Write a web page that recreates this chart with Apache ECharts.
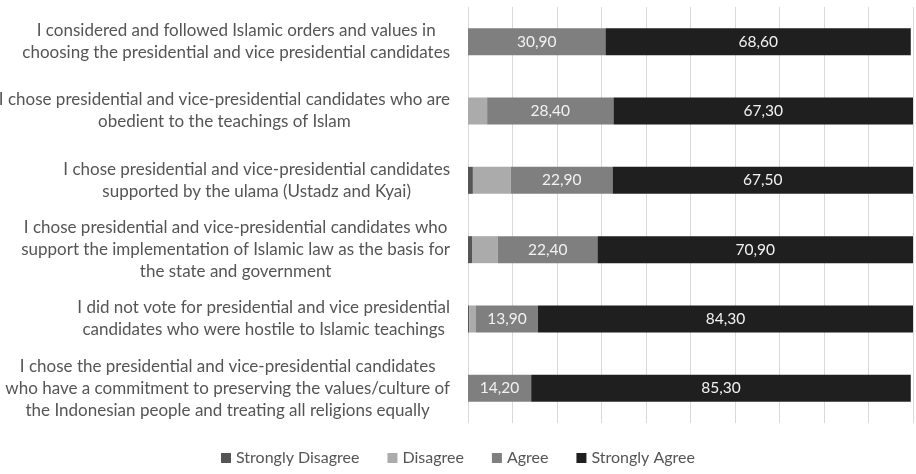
<!DOCTYPE html>
<html>
<head>
<meta charset="utf-8">
<script src="https://cdn.jsdelivr.net/npm/echarts@6/dist/echarts.min.js"></script>
<style>
  html, body { margin: 0; padding: 0; background: #fff; }
  #chart { width: 916px; height: 474px; }
</style>
</head>
<body>
<div id="chart"></div>
<script>
var statements = [
  'I considered and followed Islamic orders and values in\nchoosing the presidential and vice presidential candidates',
  'I chose presidential and vice-presidential candidates who are\nobedient to the teachings of Islam',
  'I chose presidential and vice-presidential candidates\nsupported by the ulama (Ustadz and Kyai)',
  'I chose presidential and vice-presidential candidates who\nsupport the implementation of Islamic law as the basis for\nthe state and government',
  'I did not vote for presidential and vice presidential\ncandidates who were hostile to Islamic teachings',
  'I chose the presidential and vice-presidential candidates\nwho have a commitment to preserving the values/culture of\nthe Indonesian people and treating all religions equally'
]
var seriesNames = ['Strongly Disagree', 'Disagree', 'Agree', 'Strongly Agree']
var stronglyDisagree = [0, 0, 1.1, 0.9, 0.3, 0]
var disagree = [0, 4.3, 8.5, 5.8, 1.5, 0]
var agree = [30.9, 28.4, 22.9, 22.4, 13.9, 14.2]
var stronglyAgree = [68.6, 67.3, 67.5, 70.9, 84.3, 85.3]

var colors = ['#555555', '#ababab', '#7f7f7f', '#1f1f1f']
var values = [stronglyDisagree, disagree, agree, stronglyAgree]

var chart = echarts.init(document.getElementById('chart'))

var series = seriesNames.map(function(name, i) {
  return {
    name: name,
    type: 'bar',
    stack: 'total',
    barWidth: 27,
    data: values[i],
    itemStyle: { color: colors[i] },
    label: {
      show: i >= 2,
      position: 'inside',
      color: '#f2f2f2',
      fontFamily: 'Lato',
      fontSize: 15.5,
      formatter: function(p) {
        return p.value.toFixed(2).replace('.', ',')
      }
    }
  }
})

var option = {
  animation: false,
  textStyle: { fontFamily: 'Lato' },
  grid: { left: 468, right: 3, top: 7, bottom: 51, outerBoundsMode: 'none' },
  legend: {
    bottom: 3,
    left: 'center',
    icon: 'rect',
    itemWidth: 10,
    itemHeight: 10,
    itemGap: 28,
    textStyle: { color: '#555', fontSize: 16, fontFamily: 'Lato' },
    data: seriesNames
  },
  xAxis: {
    type: 'value',
    min: 0,
    max: 100,
    interval: 10,
    axisLabel: { show: false },
    axisLine: { show: false },
    axisTick: { show: false },
    splitLine: { lineStyle: { color: '#d9d9d9', width: 1 } }
  },
  yAxis: {
    type: 'category',
    inverse: true,
    data: statements,
    axisLine: { show: false },
    axisTick: { show: false },
    axisLabel: {
      margin: 18,
      formatter: function(v) {
        return v.split('\n').map(function(l) { return '{c|' + l + '}' }).join('\n')
      },
      rich: {
        c: {
          align: 'center',
          color: '#555',
          fontSize: 17,
          fontFamily: 'Lato',
          lineHeight: 22
        }
      }
    }
  },
  series: series
}

chart.setOption(option)
</script>
</body>
</html>
